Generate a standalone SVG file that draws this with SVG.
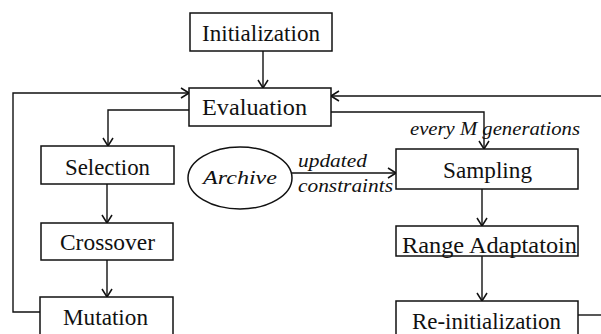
<svg xmlns="http://www.w3.org/2000/svg" width="601" height="334" viewBox="0 0 601 334">
<style>
.box{fill:#fff;stroke:#111;stroke-width:1.5}
.lbl{font-family:'Liberation Serif','DejaVu Serif',serif;font-size:24px;fill:#111}
.it{font-family:'Liberation Serif','DejaVu Serif',serif;font-style:italic;font-size:19px;fill:#111}
.ln{fill:none;stroke:#111;stroke-width:1.4}
</style>
<defs>
<marker id="ar" viewBox="0 0 10 12" refX="10" refY="6" markerWidth="10" markerHeight="12" markerUnits="userSpaceOnUse" orient="auto">
<polyline points="2,1 10,6 2,11" fill="none" stroke="#111" stroke-width="1.5"/>
</marker>
</defs>
<rect width="601" height="334" fill="#fff"/>
<g id="connectors">
<path class="ln" d="M263,51 V88" marker-end="url(#ar)"/>
<path class="ln" d="M40,312 H13 V93 H189" marker-end="url(#ar)"/>
<path class="ln" d="M189,110 H108 V146" marker-end="url(#ar)"/>
<path class="ln" d="M107,184 V223" marker-end="url(#ar)"/>
<path class="ln" d="M107,260 V297" marker-end="url(#ar)"/>
<path class="ln" d="M331,112 H484 V149" marker-end="url(#ar)"/>
<path class="ln" d="M601,96 H331" marker-end="url(#ar)"/>
<path class="ln" d="M292,173 H396" marker-end="url(#ar)"/>
<path class="ln" d="M482,189 V226" marker-end="url(#ar)"/>
<path class="ln" d="M482,256 V301" marker-end="url(#ar)"/>
<path class="ln" d="M578,315 H601"/>
<text class="it" x="298" y="167" textLength="69" lengthAdjust="spacingAndGlyphs">updated</text>
<text class="it" x="298" y="192" textLength="95" lengthAdjust="spacingAndGlyphs">constraints</text>
<text class="it" x="410" y="135" textLength="170" lengthAdjust="spacingAndGlyphs">every M generations</text>
</g>
<g id="initialization">
<rect class="box" x="190" y="13" width="142" height="38"/>
<text class="lbl" x="202" y="41" textLength="118" lengthAdjust="spacingAndGlyphs">Initialization</text>
</g>
<g id="evaluation">
<rect class="box" x="189" y="88" width="142" height="38"/>
<text class="lbl" x="202" y="115" textLength="105" lengthAdjust="spacingAndGlyphs">Evaluation</text>
</g>
<g id="selection">
<rect class="box" x="41" y="146" width="133" height="38"/>
<text class="lbl" x="65" y="175" textLength="85" lengthAdjust="spacingAndGlyphs">Selection</text>
</g>
<g id="crossover">
<rect class="box" x="41" y="223" width="132" height="37"/>
<text class="lbl" x="60" y="250" textLength="95" lengthAdjust="spacingAndGlyphs">Crossover</text>
</g>
<g id="mutation">
<rect class="box" x="40" y="297" width="133" height="40"/>
<text class="lbl" x="63" y="325" textLength="85" lengthAdjust="spacingAndGlyphs">Mutation</text>
</g>
<g id="archive">
<ellipse cx="240" cy="178" rx="52" ry="31" fill="#fff" stroke="#111" stroke-width="1.5"/>
<text class="it" x="203" y="184" font-size="21" textLength="74" lengthAdjust="spacingAndGlyphs">Archive</text>
</g>
<g id="sampling">
<rect class="box" x="396" y="149" width="182" height="40"/>
<text class="lbl" x="443" y="178" textLength="89" lengthAdjust="spacingAndGlyphs">Sampling</text>
</g>
<g id="range">
<rect class="box" x="396" y="226" width="182" height="30"/>
<text class="lbl" x="402" y="253" textLength="175" lengthAdjust="spacingAndGlyphs">Range Adaptatoin</text>
</g>
<g id="reinit">
<rect class="box" x="396" y="301" width="182" height="40"/>
<text class="lbl" x="412" y="329" textLength="149" lengthAdjust="spacingAndGlyphs">Re-initialization</text>
</g>
</svg>
